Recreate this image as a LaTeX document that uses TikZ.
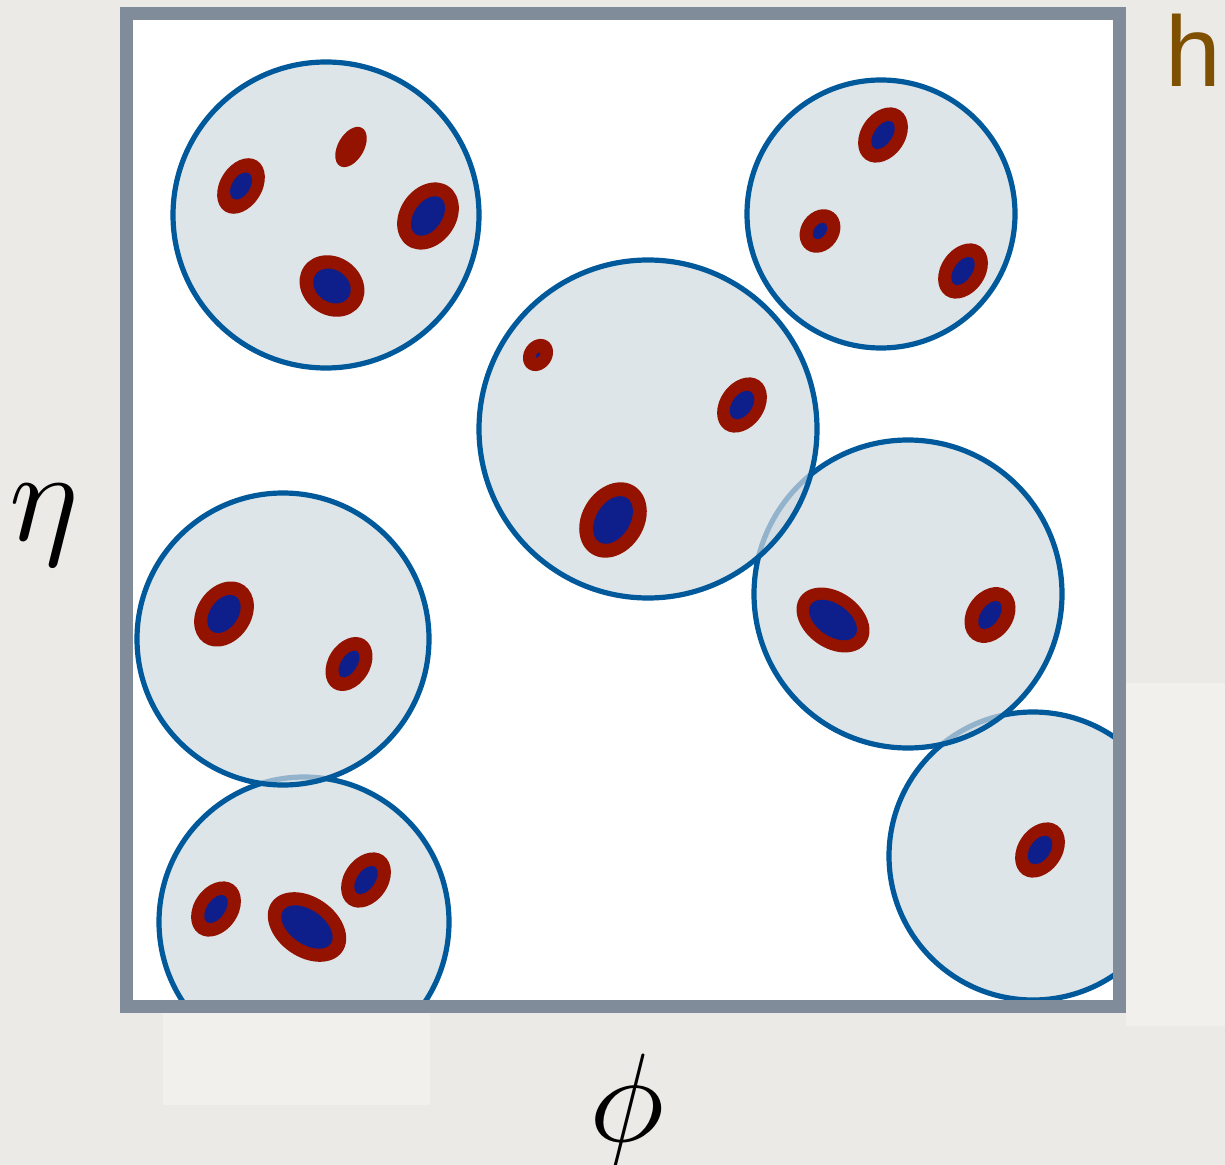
\documentclass[tikz,border=0pt]{standalone}
\usepackage{graphicx}
\usepackage{fontspec}
\newfontfamily\labelsans{Liberation Sans}
\usepackage{tikz}
\definecolor{slidebg}{HTML}{ECEAE6}
\definecolor{slidepatch}{HTML}{F1F0ED}
\definecolor{framegray}{HTML}{808C99}
\definecolor{jetfill}{HTML}{D0DAE1}
\definecolor{jetedge}{HTML}{00599A}
\definecolor{ringred}{HTML}{931200}
\definecolor{coreblue}{HTML}{0E1F8C}
\definecolor{hbrown}{HTML}{7F5000}

\begin{document}
\begin{tikzpicture}[x=0.5pt,y=-0.5pt]
  \useasboundingbox (0,0) rectangle (1225,1165);
  % Slide and plot area
  \fill[slidebg] (0,0) rectangle (1225,1165);
  \fill[white] (126,14) rectangle (1119,1006);

  \begin{scope}
    \clip (126,14) rectangle (1119,1006);
    % Jet cones, back to front
    \foreach \x/\y/\r in {1033/856/144,908/594/154,648/429/169,
                          304/922/145,283/639/146,326/215/153,881/214/134}{
      \filldraw[fill=jetfill,fill opacity=0.7,draw=jetedge,line width=2.6pt]
        (\x,\y) circle (\r);
    }

    % Hot spots
    \foreach \x/\y/\a/\ra/\rb/\ba/\bb in {
      241/186/58/30/21/15/9, 428/216/55/36/28/22/14,
      332/286/-35/34/29/20/16, 883/135/55/30/22/16/9,
      820/231/55/23/19/9/6, 963/271/55/30/22/16/9,
      538/355/55/17/14/3/1.5, 742/405/55/30/22/16/10,
      613/520/58/40/31/26/17, 224/614/55/35/27/21/14,
      349/664/58/29/21/15/8, 833/620/-35/40/28/27/16,
      990/615/55/30/23/16/9, 216/909/55/30/22/16/9,
      307/927/-35/43/30/29/17, 366/880/55/30/22/16/9,
      1040/850/55/30/22/16/10}{
      \fill[ringred,rotate around={\a:(\x,\y)}] (\x,\y) ellipse ({\ra} and {\rb});
      \fill[coreblue,rotate around={\a:(\x,\y)}] (\x,\y) ellipse ({\ba} and {\bb});
    }
    \fill[ringred,rotate around={60:(351,147)}] (351,147) ellipse (22 and 13);
  \end{scope}

  % Frame
  \draw[framegray,line width=6.5pt] (126,14) rectangle (1119,1006);
  \fill[slidepatch] (163,1013) rectangle (430,1105);
  \fill[slidepatch] (1126,683) rectangle (1225,1026);

  % Axis labels
  \node[anchor=base,inner sep=0pt] (eta) at (44,540)
    {\scalebox{6.5}{$\eta$}};
  \node[anchor=base,inner sep=0pt] (phi) at (627,1141)
    {\scalebox{6.3}{$\phi$}};
  \node[anchor=base west,inner sep=0pt,text=hbrown] (hlabel) at (1165,87)
    {\labelsans\fontsize{50}{60}\selectfont h};
\end{tikzpicture}
\end{document}
